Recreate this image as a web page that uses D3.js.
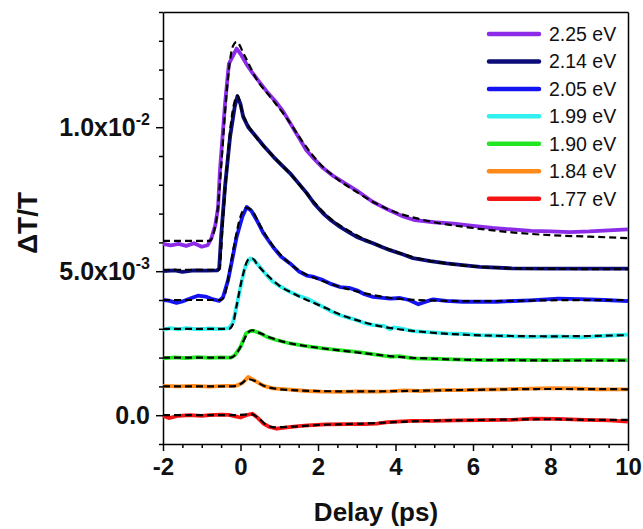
<!DOCTYPE html>
<html>
<head>
<meta charset="utf-8">
<script src="https://cdn.jsdelivr.net/npm/d3@7"></script>
<style>
  html, body { margin: 0; padding: 0; background: #fff; }
  #chart svg { display: block; font-family: "Liberation Sans", Arial, sans-serif; }
  .axis text { fill: #111; font-weight: bold; }
</style>
</head>
<body>
<div id="chart"></div>
<script>
// Transient transmission kinetics, values in units of 1e-3 (curves already offset)
const labels = ["2.25 eV", "2.14 eV", "2.05 eV", "1.99 eV", "1.90 eV", "1.84 eV", "1.77 eV"];
const colors = ["#8c2be8", "#0c0c78", "#1414f0", "#30f0f0", "#22e622", "#ff8a1a", "#f51414"];

const xTicks = [-2, 0, 2, 4, 6, 8, 10];
const yTicks = [0, 5, 10];
const yTickLabels = [["0.0", ""], ["5.0x10", "-3"], ["1.0x10", "-2"]];

const d225 = [[-2, 5.95], [-1.8, 5.9], [-1.6, 5.95], [-1.4, 5.88], [-1.2, 5.97], [-1.0, 5.85], [-0.85, 5.9],
  [-0.75, 6.15], [-0.65, 6.6], [-0.58, 7.2], [-0.53, 8.5], [-0.4, 10.8], [-0.3, 12.2], [-0.1, 12.73],
  [0.0, 12.55], [0.15, 12.2], [0.3, 11.9], [0.5, 11.55], [0.7, 11.2], [0.9, 10.9], [1.1, 10.55], [1.3, 10.1],
  [1.5, 9.65], [1.7, 9.2], [1.9, 8.9], [2.1, 8.62], [2.4, 8.3], [2.7, 8.05], [3.0, 7.8], [3.4, 7.42],
  [3.8, 7.14], [4.2, 6.9], [4.5, 6.77], [5.0, 6.7], [5.5, 6.65], [6.0, 6.57], [6.5, 6.5], [7.0, 6.45],
  [7.5, 6.4], [8.0, 6.38], [8.5, 6.36], [9.0, 6.38], [9.5, 6.42], [10, 6.45]];
const d214 = [[-2, 5.0], [-1.7, 5.03], [-1.5, 4.98], [-1.2, 5.03], [-0.9, 5.02], [-0.6, 5.03], [-0.55, 5.1],
  [-0.5, 6.2], [-0.4, 7.93], [-0.27, 9.66], [-0.15, 10.7], [-0.08, 11.08], [0.0, 10.8], [0.07, 10.36],
  [0.2, 10.0], [0.33, 9.79], [0.6, 9.35], [0.85, 8.97], [1.05, 8.7], [1.28, 8.4], [1.5, 8.05], [1.71, 7.71],
  [1.9, 7.35], [2.13, 7.01], [2.35, 6.75], [2.57, 6.54], [2.8, 6.35], [3.0, 6.19], [3.2, 6.08], [3.42, 5.97],
  [3.65, 5.84], [3.86, 5.73], [4.2, 5.58], [4.45, 5.45], [4.9, 5.35], [5.32, 5.27], [5.8, 5.2], [6.18, 5.15],
  [7.0, 5.1], [8.0, 5.09], [9.0, 5.09], [10, 5.09]];
const d205 = [[-2, 4.0], [-1.85, 3.98], [-1.65, 3.9], [-1.5, 3.95], [-1.3, 4.05], [-1.1, 4.15], [-0.9, 4.12],
  [-0.7, 4.02], [-0.55, 3.97], [-0.45, 4.1], [-0.32, 4.69], [-0.2, 5.5], [-0.1, 6.19], [0.05, 6.9],
  [0.16, 7.23], [0.28, 7.1], [0.42, 6.77], [0.6, 6.3], [0.84, 5.84], [1.05, 5.5], [1.28, 5.27], [1.5, 5.0],
  [1.71, 4.85], [1.9, 4.8], [2.13, 4.69], [2.35, 4.55], [2.57, 4.45], [2.8, 4.42], [3.0, 4.34], [3.2, 4.2],
  [3.42, 4.11], [3.86, 4.05], [4.12, 4.07], [4.35, 4.0], [4.59, 3.85], [4.8, 3.95], [4.97, 4.02], [5.3, 3.97],
  [5.74, 3.94], [6.61, 3.94], [7.47, 3.99], [8.2, 4.05], [8.76, 4.03], [9.4, 4.0], [10, 3.96]];
const d199 = [[-2, 2.97], [-1.8, 3.02], [-1.6, 2.98], [-1.4, 3.02], [-1.1, 2.98], [-0.8, 3.01], [-0.5, 2.99],
  [-0.3, 3.02], [-0.2, 3.2], [-0.14, 3.54], [0.0, 4.45], [0.12, 5.15], [0.25, 5.44], [0.35, 5.38], [0.5, 5.15],
  [0.65, 4.9], [0.84, 4.63], [1.05, 4.45], [1.28, 4.28], [1.5, 4.15], [1.71, 4.05], [1.9, 3.92], [2.13, 3.76],
  [2.35, 3.6], [2.57, 3.47], [2.8, 3.38], [3.0, 3.3], [3.2, 3.2], [3.42, 3.13], [3.7, 3.1], [3.86, 2.98],
  [3.95, 3.05], [4.1, 3.02], [4.45, 2.92], [5.32, 2.84], [5.8, 2.82], [6.18, 2.78], [6.8, 2.75], [7.47, 2.72],
  [8.2, 2.74], [8.76, 2.7], [9.3, 2.75], [10, 2.8]];
const d190 = [[-2, 1.97], [-1.7, 2.01], [-1.4, 1.98], [-1.1, 2.02], [-0.8, 1.99], [-0.5, 2.01], [-0.25, 2.0],
  [-0.15, 2.08], [0.0, 2.37], [0.14, 2.84], [0.25, 2.92], [0.33, 2.93], [0.5, 2.85], [0.68, 2.72], [0.9, 2.62],
  [1.1, 2.55], [1.28, 2.49], [1.7, 2.4], [2.13, 2.32], [2.6, 2.25], [3.0, 2.2], [3.4, 2.12], [3.86, 2.03],
  [4.1, 2.05], [4.45, 1.97], [5.0, 1.96], [5.5, 1.94], [6.18, 1.91], [7.0, 1.92], [8.0, 1.91], [9.0, 1.92],
  [10, 1.91]];
const d184 = [[-2, 1.02], [-1.6, 1.0], [-1.2, 1.02], [-0.8, 0.99], [-0.4, 1.02], [-0.1, 1.03], [0.05, 1.12],
  [0.2, 1.33], [0.3, 1.25], [0.42, 1.16], [0.6, 1.02], [0.84, 0.93], [1.2, 0.9], [1.71, 0.84], [2.1, 0.82],
  [2.57, 0.81], [3.0, 0.83], [3.5, 0.82], [3.86, 0.83], [4.2, 0.86], [4.63, 0.84], [5.2, 0.87], [5.8, 0.87],
  [6.18, 0.89], [6.8, 0.9], [7.5, 0.92], [8.0, 0.94], [8.6, 0.93], [9.2, 0.9], [10, 0.9]];
const d177 = [[-2, -0.02], [-1.85, -0.1], [-1.6, -0.02], [-1.3, 0.0], [-1.0, -0.02], [-0.8, 0.0], [-0.5, 0.02],
  [-0.3, 0.01], [-0.1, -0.05], [0.0, -0.08], [0.15, 0.0], [0.31, 0.05], [0.45, -0.1], [0.6, -0.3], [0.75, -0.41],
  [0.93, -0.47], [1.2, -0.42], [1.5, -0.38], [1.74, -0.35], [2.2, -0.32], [2.8, -0.31], [3.2, -0.31],
  [3.52, -0.29], [3.8, -0.24], [4.42, -0.2], [5.0, -0.2], [5.6, -0.18], [6.2, -0.17], [7.0, -0.16],
  [7.54, -0.12], [8.2, -0.13], [8.88, -0.16], [9.5, -0.18], [10, -0.22]];

// fitted curves (black dashed)
const f225 = [[-2, 6.05], [-0.8, 6.05], [-0.7, 6.3], [-0.6, 7.0], [-0.5, 8.6], [-0.4, 10.5], [-0.3, 12.0],
  [-0.2, 12.8], [-0.1, 12.96], [0.1, 12.5], [0.4, 11.7], [0.8, 11.0], [1.2, 10.3], [1.6, 9.5], [2.0, 8.8],
  [2.5, 8.2], [3.0, 7.75], [3.5, 7.35], [4.0, 7.05], [4.5, 6.85], [5.0, 6.7], [6.0, 6.5], [7.0, 6.35],
  [8.0, 6.25], [9.0, 6.2], [10, 6.15]];
const f214 = [[-2, 5.05], [-0.55, 5.05], [-0.45, 6.8], [-0.35, 8.6], [-0.25, 10.1], [-0.15, 10.9], [-0.08, 11.1],
  [0.05, 10.5], [0.3, 9.85], [0.8, 9.05], [1.3, 8.35], [1.8, 7.55], [2.3, 6.85], [2.8, 6.4], [3.3, 6.05],
  [3.8, 5.78], [4.3, 5.55], [5.0, 5.33], [6.0, 5.17], [7.0, 5.1], [8.0, 5.08], [10, 5.07]];
const f205 = [[-2, 4.0], [-0.5, 4.0], [-0.4, 4.2], [-0.3, 4.9], [-0.15, 6.0], [0.0, 6.9], [0.15, 7.2], [0.3, 7.1],
  [0.5, 6.6], [0.8, 5.95], [1.2, 5.35], [1.6, 4.95], [2.0, 4.72], [2.5, 4.48], [3.0, 4.3], [3.5, 4.15],
  [4.0, 4.05], [5.0, 3.98], [6.0, 3.96], [7.0, 3.97], [8.0, 3.99], [10, 4.0]];
const f199 = [[-2, 3.0], [-0.3, 3.0], [-0.2, 3.15], [-0.1, 3.8], [0.05, 4.8], [0.2, 5.4], [0.3, 5.45], [0.45, 5.2],
  [0.7, 4.85], [1.0, 4.5], [1.4, 4.2], [1.8, 3.95], [2.2, 3.72], [2.6, 3.48], [3.0, 3.3], [3.5, 3.12],
  [4.0, 3.0], [4.5, 2.92], [5.0, 2.86], [6.0, 2.78], [7.0, 2.75], [8.0, 2.74], [9.0, 2.75], [10, 2.78]];
const f190 = [[-2, 2.0], [-0.25, 2.0], [-0.1, 2.15], [0.05, 2.5], [0.2, 2.88], [0.3, 2.95], [0.5, 2.85],
  [0.8, 2.68], [1.2, 2.52], [1.8, 2.38], [2.5, 2.26], [3.2, 2.15], [4.0, 2.03], [5.0, 1.96], [6.0, 1.92],
  [7.0, 1.91], [8.0, 1.9], [10, 1.9]];
const f184 = [[-2, 1.0], [-0.2, 1.0], [0.0, 1.08], [0.2, 1.25], [0.35, 1.2], [0.6, 1.02], [0.9, 0.92], [1.5, 0.86],
  [2.5, 0.83], [3.5, 0.83], [5.0, 0.86], [6.0, 0.88], [7.0, 0.9], [8.0, 0.91], [10, 0.9]];
const f177 = [[-2, 0.0], [-0.2, 0.0], [0.1, 0.02], [0.3, 0.03], [0.5, -0.15], [0.7, -0.36], [0.9, -0.42],
  [1.3, -0.4], [2.0, -0.34], [3.0, -0.3], [4.0, -0.24], [5.0, -0.19], [6.0, -0.17], [7.0, -0.15], [8.0, -0.14],
  [9.0, -0.16], [10, -0.16]];

const dataSeries = [d225, d214, d205, d199, d190, d184, d177];
const fitSeries = [f225, f214, f205, f199, f190, f184, f177];
const UNIT = 1e-3;

(function () {
  const W = 643, H = 529;
  const margin = { top: 12, right: 15, bottom: 85, left: 163 };
  const width = W - margin.left - margin.right;
  const height = H - margin.top - margin.bottom;

  const svg = d3.select("#chart").append("svg")
    .attr("width", W).attr("height", H);
  const g = svg.append("g")
    .attr("transform", `translate(${margin.left},${margin.top})`);

  const x = d3.scaleLinear().domain([-2, 10]).range([0, width]);
  const y = d3.scaleLinear().domain([-1e-3, 14e-3]).range([height, 0]);

  const blackLines = a => a.selectAll("line, path")
    .attr("stroke", "#000").attr("stroke-width", 1.5);

  // minor ticks
  g.append("g").attr("class", "axis")
    .attr("transform", `translate(0,${height})`)
    .call(d3.axisBottom(x).tickValues(d3.range(-1.5, 10, 0.5).filter(v => v % 2 !== 0)).tickSize(4).tickFormat(""))
    .call(a => a.select(".domain").remove())
    .call(blackLines);
  g.append("g").attr("class", "axis")
    .call(d3.axisLeft(y).tickValues(d3.range(-1, 15).filter(v => v % 5 !== 0).map(v => v * UNIT)).tickSize(4).tickFormat(""))
    .call(a => a.select(".domain").remove())
    .call(blackLines);

  // major axes
  g.append("g").attr("class", "axis")
    .attr("transform", `translate(0,${height})`)
    .call(d3.axisBottom(x).tickValues(xTicks).tickSize(7).tickPadding(7).tickSizeOuter(0).tickFormat(d => String(d)))
    .call(blackLines)
    .call(a => a.selectAll("text").attr("font-size", 24));

  const yAxis = g.append("g").attr("class", "axis")
    .call(d3.axisLeft(y).tickValues(yTicks.map(v => v * UNIT)).tickSize(7).tickPadding(6).tickSizeOuter(0))
    .call(blackLines);
  yAxis.selectAll(".tick text")
    .attr("font-size", 25)
    .text(null)
    .each(function (d, i) {
      const t = d3.select(this);
      t.append("tspan").text(yTickLabels[i][0]);
      if (yTickLabels[i][1]) {
        t.append("tspan").attr("font-size", 16).attr("dy", -11).text(yTickLabels[i][1]);
      }
    });

  // top and right frame
  g.append("g").attr("class", "axis")
    .call(d3.axisTop(x).tickValues([]).tickSizeOuter(0))
    .call(blackLines);
  g.append("g").attr("class", "axis")
    .attr("transform", `translate(${width},0)`)
    .call(d3.axisRight(y).tickValues([]).tickSizeOuter(0))
    .call(blackLines);

  const toLine = d3.line().x(d => x(d[0])).y(d => y(d[1] * UNIT));

  // measured traces
  dataSeries.forEach((s, i) => {
    g.append("path")
      .datum(s)
      .attr("d", toLine.curve(d3.curveLinear))
      .attr("fill", "none")
      .attr("stroke", colors[i])
      .attr("stroke-width", 3.8)
      .attr("stroke-linejoin", "round");
  });

  // fits
  fitSeries.forEach(s => {
    g.append("path")
      .datum(s)
      .attr("d", toLine.curve(d3.curveMonotoneX))
      .attr("fill", "none")
      .attr("stroke", "#000")
      .attr("stroke-width", 2.2)
      .attr("stroke-dasharray", "7 4");
  });

  // legend
  const legend = g.append("g").attr("transform", "translate(326,22)");
  labels.forEach((lab, i) => {
    const row = legend.append("g").attr("transform", `translate(0,${i * 27.45})`);
    row.append("line")
      .attr("x1", 0).attr("x2", 50)
      .attr("stroke", colors[i]).attr("stroke-width", 4.5).attr("stroke-linecap", "round");
    row.append("text")
      .attr("x", 60).attr("dy", "0.36em")
      .attr("font-size", 19.5).attr("fill", "#111")
      .text(lab);
  });

  // axis titles
  svg.append("text")
    .attr("x", 376).attr("y", 521)
    .attr("text-anchor", "middle")
    .attr("font-size", 26).attr("font-weight", "bold").attr("fill", "#111")
    .text("Delay (ps)");

  svg.append("text")
    .attr("transform", "translate(37,223) rotate(-90)")
    .attr("text-anchor", "middle")
    .attr("font-size", 28).attr("font-weight", "bold").attr("fill", "#111")
    .text("ΔT/T");
})();
</script>
</body>
</html>
